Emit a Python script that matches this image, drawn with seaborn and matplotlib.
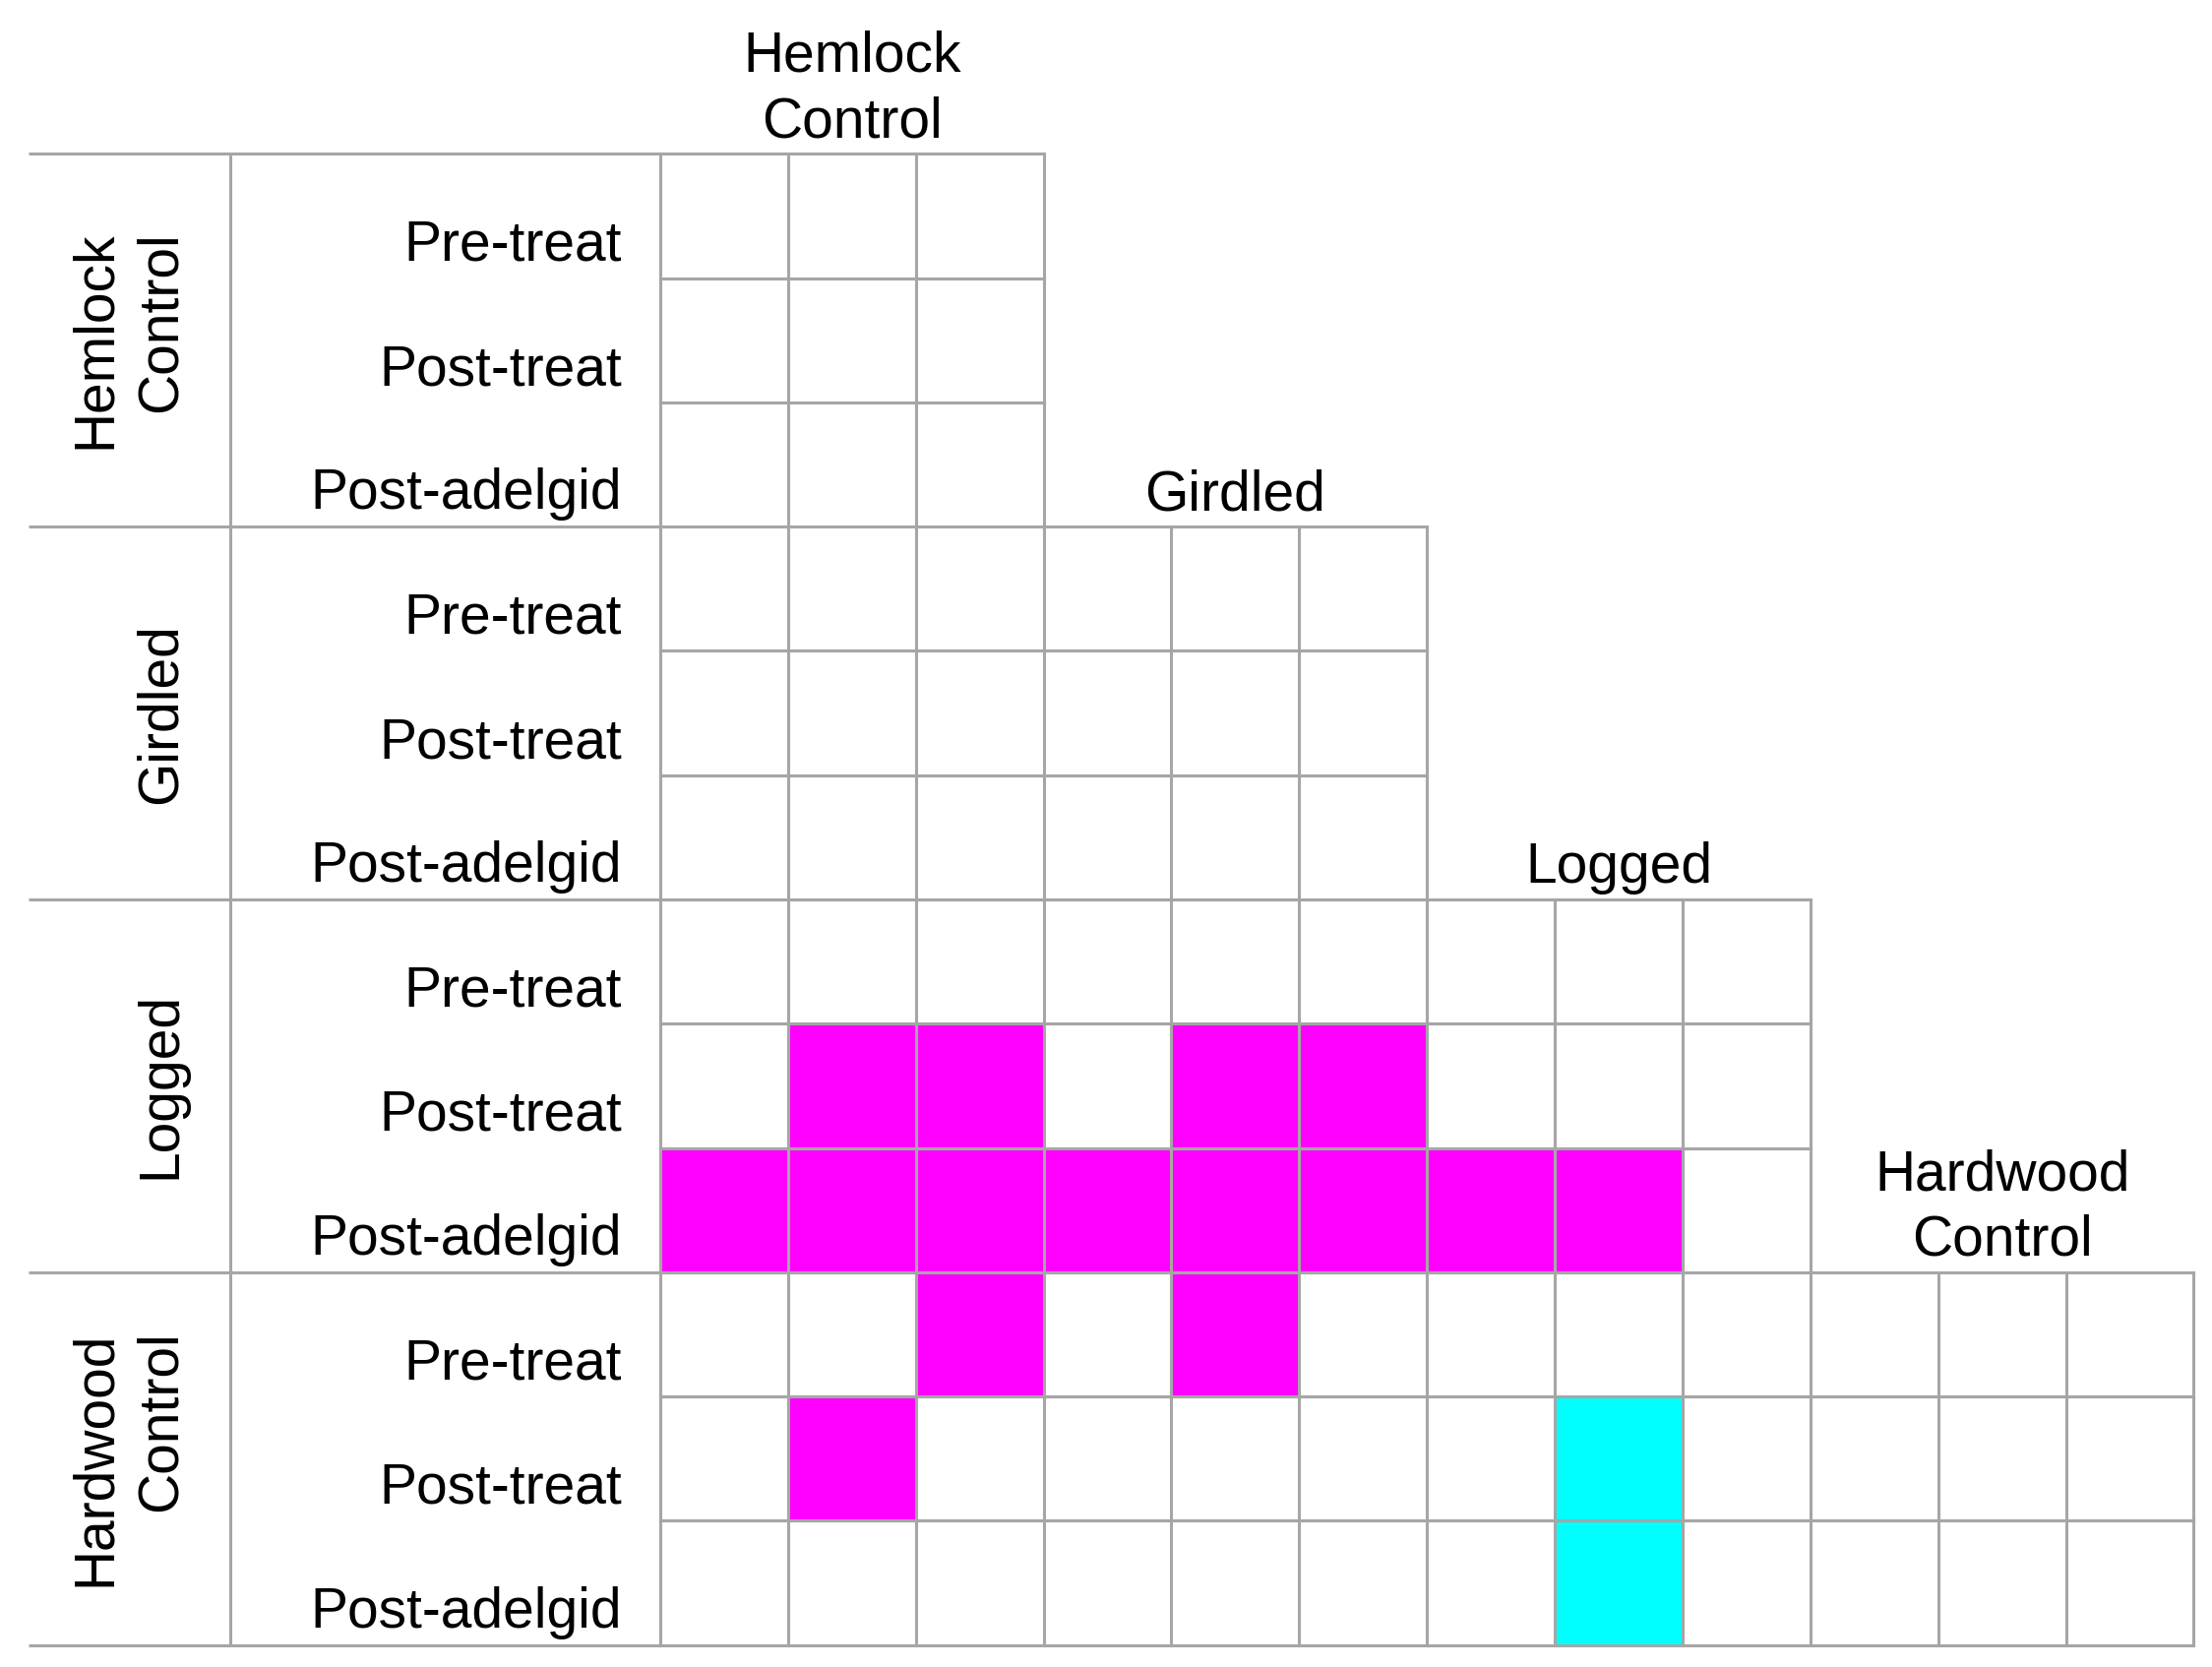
import numpy as np
import matplotlib
matplotlib.use("Agg")
import matplotlib.pyplot as plt
import seaborn as sns
from matplotlib.colors import ListedColormap

# stand groups and sampling periods
groups = ["Hemlock\nControl", "Girdled", "Logged", "Hardwood\nControl"]
periods = ["Pre-treat", "Post-treat", "Post-adelgid"]

# pairwise result per row (lower block triangle only)
# 0 = no difference, 1 = magenta, 2 = cyan
sig_rows = [
    [0, 0, 0],
    [0, 0, 0],
    [0, 0, 0],
    [0, 0, 0, 0, 0, 0],
    [0, 0, 0, 0, 0, 0],
    [0, 0, 0, 0, 0, 0],
    [0, 0, 0, 0, 0, 0, 0, 0, 0],
    [0, 1, 1, 0, 1, 1, 0, 0, 0],
    [1, 1, 1, 1, 1, 1, 1, 1, 0],
    [0, 0, 1, 0, 1, 0, 0, 0, 0, 0, 0, 0],
    [0, 1, 0, 0, 0, 0, 0, 2, 0, 0, 0, 0],
    [0, 0, 0, 0, 0, 0, 0, 2, 0, 0, 0, 0],
]

n = len(groups) * len(periods)
mat = np.full((n, n), np.nan)
for i, row in enumerate(sig_rows):
    mat[i, :len(row)] = row
mask = np.isnan(mat)

sns.set_style("white")
plt.rcParams["font.family"] = ["Liberation Sans", "DejaVu Sans"]

fig = plt.figure(figsize=(22.48, 16.94), dpi=100)
ax = fig.add_axes([0, 0, 1, 1])

grey = "#a6a6a6"
lw = 2.2
sns.heatmap(mat, mask=mask, cmap=ListedColormap(["white", "#ff00ff", "#00ffff"]),
            vmin=0, vmax=2, linewidths=0, cbar=False,
            xticklabels=False, yticklabels=False, ax=ax)

# cell borders, only where a row has cells
for i, row in enumerate(sig_rows):
    w = len(row)
    ax.plot([0, w], [i, i], color=grey, lw=lw, solid_capstyle="projecting")
    ax.plot([0, w], [i + 1, i + 1], color=grey, lw=lw, solid_capstyle="projecting")
    for c in range(w + 1):
        ax.plot([c, c], [i, i + 1], color=grey, lw=lw, solid_capstyle="projecting")

# label area on the left
x_left = -4.945
x_div = -3.366
for g in range(len(groups) + 1):
    ax.plot([x_left, 0], [g * 3, g * 3], color=grey, lw=lw, solid_capstyle="butt")
ax.plot([x_div, x_div], [0, n], color=grey, lw=lw)

fs = 41
for g, name in enumerate(groups):
    # group name, rotated, on the left
    ax.text(-3.70, g * 3 + 1.5, name, rotation=90, ha="right", va="center",
            fontsize=fs, linespacing=1.3, color="black")
    # group name above its diagonal block
    ax.text(g * 3 + 1.5, g * 3 - 0.04, name, ha="center", va="bottom",
            fontsize=fs, linespacing=1.3, color="black")
    for p, per in enumerate(periods):
        ax.text(-0.3, g * 3 + p + 0.86, per, ha="right", va="baseline",
                fontsize=fs, color="black")

ax.set_xlim(-5.167, 12.143)
ax.set_ylim(12.177, -1.238)
ax.set_axis_off()

fig.savefig("out.png", dpi=100, facecolor="white")
